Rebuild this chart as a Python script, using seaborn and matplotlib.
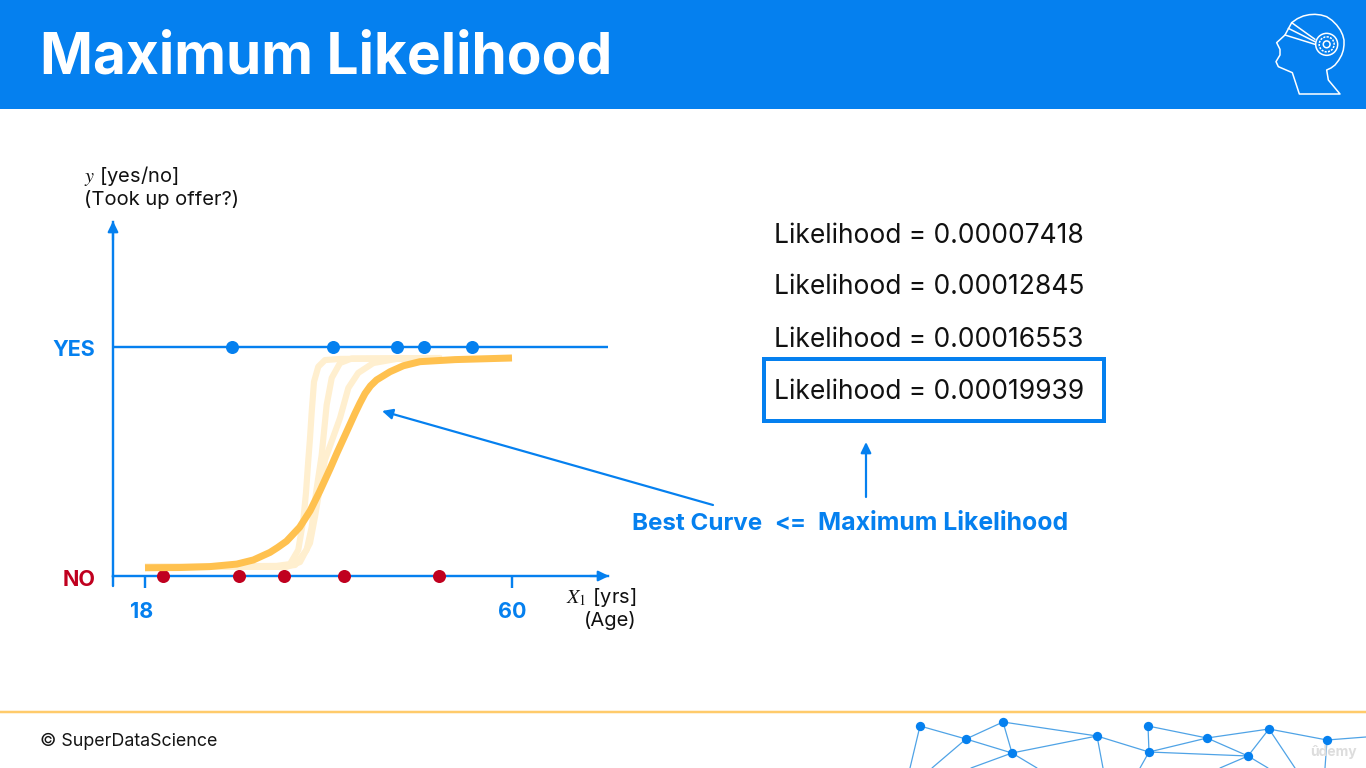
import numpy as np
import pandas as pd
import matplotlib
matplotlib.use("Agg")
import matplotlib.pyplot as plt
from matplotlib.patches import Rectangle, Circle
from matplotlib.transforms import ScaledTranslation
import seaborn as sns

BLUE = "#0580EF"
RED = "#C0001F"
ORANGE = "#FFC14F"
FADE = "#FFEFCF"
FOOT = "#FFCB6B"

yes_ages = [27.9, 39.5, 46.8, 49.9, 55.4]
no_ages = [20.1, 28.8, 33.9, 40.8, 51.6]

best_age = [18.0, 22.0, 25.4, 28.5, 30.4, 32.3, 33.2, 34.2, 35.7, 36.9, 38.0, 39.2, 40.0, 40.9, 42.03, 42.6, 43.18, 43.8, 44.5, 46.04, 47.56, 49.47, 53.5, 60.0]
best_val = [0.036, 0.037, 0.041, 0.052, 0.07, 0.103, 0.125, 0.152, 0.213, 0.285, 0.37, 0.47, 0.54, 0.615, 0.71, 0.755, 0.797, 0.83, 0.856, 0.892, 0.918, 0.936, 0.945, 0.952]

curve_a_age = [18.0, 33.07, 34.59, 35.54, 36.12, 36.42, 36.69, 36.88, 37.08, 37.34, 37.83, 38.6, 40.32, 52.0]
curve_a_val = [0.04, 0.044, 0.052, 0.114, 0.245, 0.362, 0.507, 0.6, 0.717, 0.848, 0.914, 0.943, 0.948, 0.95]
curve_b_age = [18.0, 33.07, 35.17, 36.5, 37.08, 37.57, 38.22, 38.79, 39.37, 40.32, 41.66, 51.8]
curve_b_val = [0.04, 0.04, 0.048, 0.114, 0.214, 0.362, 0.528, 0.747, 0.865, 0.93, 0.95, 0.952]
curve_c_age = [18.0, 34.22, 35.74, 36.88, 37.45, 38.03, 38.6, 40.32, 41.27, 42.41, 44.13, 46.8, 51.76]
curve_c_val = [0.04, 0.04, 0.061, 0.144, 0.258, 0.389, 0.507, 0.69, 0.821, 0.887, 0.93, 0.948, 0.95]

x_ticks = [18, 60]
x_tick_labels = ["18", "60"]
y_ticks = [0, 1]
y_tick_labels = ["NO", "YES"]
likelihoods = ["0.00007418", "0.00012845", "0.00016553", "0.00019939"]

net_nodes = [(920, 726), (966, 739), (1003, 722), (1012, 753), (1097, 736), (1148, 726),
             (1149, 752), (1207, 738), (1269, 729), (1248, 756), (1327, 740)]
net_edges = [(0, 1), (1, 2), (1, 3), (2, 3), (2, 4), (3, 4), (4, 6), (5, 6), (5, 7), (6, 7),
             (6, 9), (7, 9), (7, 8), (8, 9), (8, 10)]
net_tails = [(0, 910, 768), (1, 932, 768), (3, 971, 768), (3, 1037, 768), (4, 1103, 768),
             (6, 1140, 768), (9, 1220, 768), (9, 1268, 768), (8, 1295, 768), (10, 1325, 768),
             (10, 1366, 737)]
head_outline = [(95, 68), (112, 56), (130, 48), (148, 44), (165, 43), (183, 45), (200, 50), (216, 61), (230, 75),
                (241, 90), (248, 105), (252, 120), (252, 135), (250, 150), (245, 165), (236, 181), (225, 195),
                (213, 204), (200, 210), (205, 240), (240, 282), (118, 282), (97, 218), (55, 200),
                (48, 185), (60, 165), (60, 148), (50, 128), (75, 105), (95, 68)]
head_bands = [[(95, 68), (165, 118)], [(85, 85), (165, 125)], [(75, 105), (165, 133)]]

sns.set_theme(style="white")
plt.rcParams["font.family"] = ["Inter", "DejaVu Sans"]
plt.rcParams["mathtext.fontset"] = "stix"

W, H = 1366, 768
fig = plt.figure(figsize=(W / 100, H / 100), dpi=100, facecolor="white")
px = 0.72

# page layer in pixel coordinates
bg = fig.add_axes([0, 0, 1, 1], zorder=0)
bg.set_xlim(0, W)
bg.set_ylim(H, 0)
bg.axis("off")
bg.add_patch(Rectangle((0, 0), W, 108.5, color=BLUE, lw=0))
bg.text(40, 73, "Maximum Likelihood", color="white", fontsize=40.9, fontweight="bold", va="baseline")

# head icon
def icon(points):
    a = np.array(points, float)
    return 1260 + a[:, 0] / 3, a[:, 1] / 3

hx, hy = icon(head_outline)
bg.plot(hx, hy, color="white", lw=1.1, solid_joinstyle="round")
for band in head_bands:
    bx, by = icon(band)
    bg.plot(bx, by, color="white", lw=1.1)
for r, ls in [(11, "-"), (7.5, (0, (1.4, 0.8))), (3.4, "-")]:
    bg.add_patch(Circle((1260 + 200 / 3, 133 / 3), r, fill=False, ec="white", lw=1.1, ls=ls))

# footer
bg.plot([0, W], [712, 712], color=FOOT, lw=2.5 * px)
bg.text(40, 746, "© SuperDataScience", color="#151515", fontsize=12.85, va="baseline")
for i, j in net_edges:
    bg.plot([net_nodes[i][0], net_nodes[j][0]], [net_nodes[i][1], net_nodes[j][1]], color="#4FA3E6", lw=0.9)
for i, x, y in net_tails:
    bg.plot([net_nodes[i][0], x], [net_nodes[i][1], y], color="#4FA3E6", lw=0.9)
bg.scatter([n[0] for n in net_nodes], [n[1] for n in net_nodes], s=45, color=BLUE, lw=0, zorder=3)
bg.text(1333, 752, "ûdemy", color="#DDDDDD", fontsize=10, ha="center", va="center", fontweight="bold", zorder=4)

# chart
x_left, x_right, y_top, y_bottom = 113, 608, 222, 576
ax = fig.add_axes([x_left / W, 1 - y_bottom / H, (x_right - x_left) / W, (y_bottom - y_top) / H], zorder=2)
ax.patch.set_alpha(0)
ax.set_xlim(18 - (145 - x_left) * 42 / 367, 18 + (x_right - 145) * 42 / 367)
ax.set_ylim(0, (y_bottom - y_top) / 229)
sns.despine(ax=ax)
for s in ["left", "bottom"]:
    ax.spines[s].set_color(BLUE)
    ax.spines[s].set_linewidth(2.4 * px)
ax.axhline(1, color=BLUE, lw=2.4 * px, zorder=1)

sns.scatterplot(x=yes_ages, y=[1] * len(yes_ages), ax=ax, color=BLUE, s=88, linewidth=0, clip_on=False, zorder=3)
sns.scatterplot(x=no_ages, y=[0] * len(no_ages), ax=ax, color=RED, s=88, linewidth=0, clip_on=False, zorder=3)

curves = pd.DataFrame({"age": curve_a_age + curve_b_age + curve_c_age,
                       "val": curve_a_val + curve_b_val + curve_c_val,
                       "curve": ["a"] * len(curve_a_age) + ["b"] * len(curve_b_age) + ["c"] * len(curve_c_age)})
sns.lineplot(data=curves, x="age", y="val", units="curve", estimator=None, sort=False, color=FADE,
             lw=6.2 * px, ax=ax, zorder=4, solid_joinstyle="round", solid_capstyle="butt")
sns.lineplot(x=best_age, y=best_val, sort=False, estimator=None, color=ORANGE, lw=7 * px, ax=ax, zorder=5,
             solid_joinstyle="round", solid_capstyle="butt")

ax.set_xlabel("")
ax.set_ylabel("")
ax.set_xticks(x_ticks)
ax.set_xticklabels(x_tick_labels, fontsize=15.5, fontweight="bold", color=BLUE)
ax.set_yticks(y_ticks)
ax.set_yticklabels(y_tick_labels, fontsize=15.5, fontweight="bold")
ax.get_yticklabels()[0].set_color(RED)
ax.get_yticklabels()[1].set_color(BLUE)
ax.tick_params(axis="x", bottom=True, length=12 * px, width=2.4 * px, color=BLUE, pad=10)
ax.tick_params(axis="y", left=False, pad=6.5)
for lab, dx in zip(ax.get_xticklabels(), [-3, 0]):
    lab.set_transform(lab.get_transform() + ScaledTranslation(dx / 100, 0, fig.dpi_scale_trans))
for lab in ax.get_yticklabels():
    lab.set_transform(lab.get_transform() + ScaledTranslation(0, -1.5 / 100, fig.dpi_scale_trans))

# axis extras
bg.plot([113, 113], [576, 586], color=BLUE, lw=2.4 * px)
def arrow(start, end, lw=2.2 * px):
    bg.annotate("", xy=end, xytext=start, zorder=6,
                arrowprops=dict(arrowstyle="-|>,head_length=0.45,head_width=0.22", color=BLUE, lw=lw,
                                shrinkA=0, shrinkB=0, mutation_scale=14))
arrow((113, 240), (113, 221))
arrow((590, 576), (609, 576))
arrow((713, 505), (382, 411))
arrow((866, 497), (866, 442))

# texts
black = "#111111"
bg.text(84, 182, "$y$ [yes/no]", color=black, fontsize=14.5, va="baseline")
bg.text(84, 205, "(Took up offer?)", color=black, fontsize=14.5, va="baseline")
bg.text(636, 603, "$X_1$ [yrs]", color=black, fontsize=14.5, va="baseline", ha="right")
bg.text(636, 626, "(Age)", color=black, fontsize=14.5, va="baseline", ha="right")

for y, v in zip([243, 294, 347, 399], likelihoods):
    bg.text(774, y, f"Likelihood = {v}", color=black, fontsize=19, va="baseline")
bg.add_patch(Rectangle((763.5, 358.5), 340, 62.5, fill=False, ec=BLUE, lw=4 * px))
bg.text(632, 530, "Best Curve", color=BLUE, fontsize=17.4, fontweight="bold", va="baseline")
bg.text(774, 530, "<=", color=BLUE, fontsize=17, fontweight="bold", va="baseline")
bg.text(818, 530, "Maximum Likelihood", color=BLUE, fontsize=17.9, fontweight="bold", va="baseline")

fig.savefig("out.png", dpi=100)
